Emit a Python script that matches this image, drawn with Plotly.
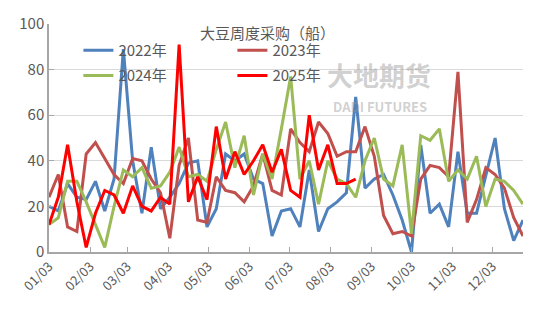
import pandas as pd
import plotly.graph_objects as go

weeks = pd.date_range("2025-01-03", periods=52, freq="7D")

y2022 = [20, 18, 30, 24, 23, 31, 18, 32, 89, 40, 17, 46, 19, 24, 30, 39, 40, 11, 19, 43,
         40, 43, 32, 30, 7, 18, 19, 11, 36, 9, 19, 22, 26, 68, 28, 32, 34, 25, 14, 0,
         47, 17, 21, 11, 44, 17, 17, 34, 50, 19, 5, 14]
y2023 = [24, 34, 11, 9, 43, 48, 41, 34, 30, 41, 40, 32, 26, 6, 38, 50, 14, 13, 33, 27,
         26, 22, 29, 43, 27, 25, 54, 48, 44, 57, 52, 42, 44, 44, 55, 42, 16, 8, 9, 7,
         32, 38, 37, 33, 79, 13, 23, 37, 34, 28, 15, 7]
y2024 = [12, 15, 31, 31, 22, 12, 2, 20, 36, 33, 37, 28, 29, 35, 46, 33, 34, 31, 45, 57,
         37, 51, 25, 43, 32, 54, 77, 32, 40, 21, 40, 32, 30, 24, 40, 50, 32, 29, 47, 8,
         51, 49, 54, 31, 36, 32, 42, 20, 32, 31, 27, 21]
y2025 = [12, 24, 47, 22, 2, 17, 27, 25, 17, 29, 20, 18, 24, 21, 91, 22, 33, 23, 55, 32,
         44, 34, 40, 47, 35, 45, 27, 24, 60, 36, 47, 30, 30, 32]

series_names = ["2022年", "2023年", "2024年", "2025年"]
series_colors = ["#4F81BD", "#C0504D", "#9BBB59", "#FF0000"]
series_legend = ["legend", "legend", "legend2", "legend2"]

tick_dates = ["2025-%02d-03" % m for m in range(1, 13)]
tick_labels = ["%02d/03" % m for m in range(1, 13)]

title_text = "大豆周度采购（船）"

FONT = "Noto Sans CJK SC"
GRAY = "#595959"

fig = go.Figure()
for name, vals, col, lg in zip(series_names, [y2022, y2023, y2024, y2025], series_colors, series_legend):
    fig.add_trace(go.Scatter(x=weeks[:len(vals)], y=vals, mode="lines", name=name,
                             line=dict(color=col, width=3), legend=lg))

legend_common = dict(orientation="h", xanchor="left", yanchor="middle",
                     font=dict(family=FONT, size=15, color=GRAY),
                     bgcolor="rgba(0,0,0,0)", entrywidth=109, entrywidthmode="pixels")

fig.update_layout(
    width=550, height=309,
    margin=dict(l=49, r=27, t=12, b=57),
    paper_bgcolor="white", plot_bgcolor="white",
    font=dict(family=FONT, color=GRAY),
    showlegend=True,
    legend=dict(x=0.062, y=0.884, **legend_common),
    legend2=dict(x=0.062, y=0.7725, **legend_common),
    xaxis=dict(type="date", range=[weeks[0], weeks[-1]], tickvals=tick_dates, ticktext=tick_labels,
               tickangle=-45, tickfont=dict(family=FONT, size=13, color=GRAY),
               showgrid=False, showline=True, linecolor="#A6A6A6", linewidth=1.5,
               ticks="inside", ticklen=5, tickcolor="#A6A6A6", zeroline=False),
    yaxis=dict(range=[0, 100], tickvals=[0, 20, 40, 60, 80, 100],
               tickfont=dict(family=FONT, size=15, color=GRAY),
               showgrid=True, gridcolor="#D9D9D9", gridwidth=1,
               showline=True, linecolor="#A6A6A6", linewidth=1.5,
               ticks="inside", ticklen=5, tickcolor="#A6A6A6", zeroline=False),
)

fig.add_annotation(text=title_text, xref="paper", yref="paper", x=0.462, y=0.962,
                   xanchor="center", yanchor="middle", showarrow=False,
                   font=dict(family=FONT, size=15, color=GRAY))

fig.add_annotation(text="<b>大地期货</b>", xref="paper", yref="paper", x=0.696, y=0.778,
                   xanchor="center", yanchor="middle", showarrow=False,
                   font=dict(family=FONT, size=26, color="rgba(150,150,150,0.45)"))
fig.add_annotation(text="<b>DADI FUTURES</b>", xref="paper", yref="paper", x=0.698, y=0.64,
                   xanchor="center", yanchor="middle", showarrow=False,
                   font=dict(family=FONT, size=13, color="rgba(150,150,150,0.45)"))

fig.write_html("out.html")
